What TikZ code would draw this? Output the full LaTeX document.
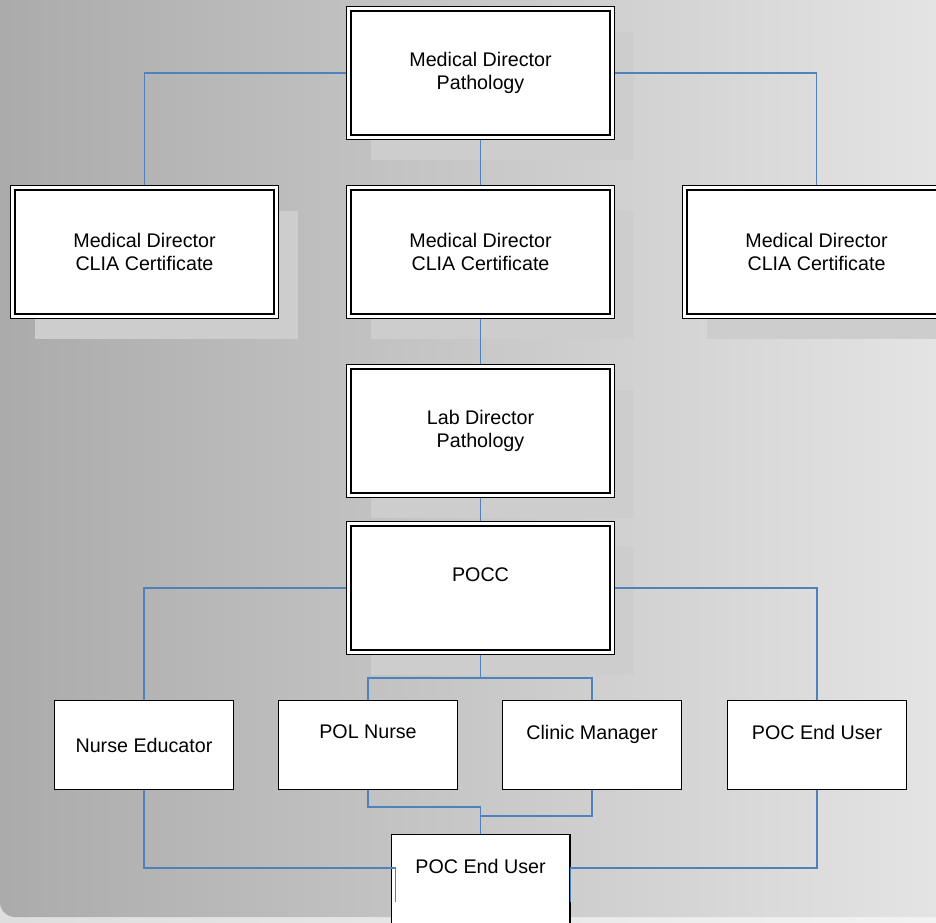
\documentclass[tikz,border=0pt]{standalone}
\usepackage{fontspec}
\setmainfont{Liberation Sans}
\usepackage{tikz}
\usetikzlibrary{positioning}
\usetikzlibrary{shadows}
\definecolor{linkblue}{HTML}{4F81BD}
\definecolor{shadowgrey}{HTML}{CDCDCD}
\tikzstyle{bigbox} = [rectangle, draw=black, line width=1.3pt, double=white, double distance=3pt, fill=white,
minimum width=263.4pt, minimum height=128.4pt, outer sep=2.8pt, inner sep=0pt, align=center,
font={\fontsize{19.7}{23.6}\selectfont},
drop shadow={shadow xshift=22pt, shadow yshift=-23pt, fill=shadowgrey, opacity=1}]
\tikzstyle{smallbox} = [rectangle, draw=black, line width=1.3pt, fill=white, minimum width=178.7pt,
minimum height=88.7pt, inner sep=0pt, align=center, font={\fontsize{19.7}{23.6}\selectfont}]
\tikzstyle{raised} = [text depth=26pt]
\tikzstyle{link} = [draw=linkblue, line width=1.5pt]
\begin{document}
\begin{tikzpicture}[x=1pt, y=1pt, node distance=45pt]
  \useasboundingbox (0,0) rectangle (936,922);
  \shade[left color=black!13, right color=black!5] (0,0) rectangle (936,922);
  \shade[left color=black!33, right color=black!10, rounded corners=15pt] (0,5) rectangle (960,940);

  \node(mdpath)[bigbox] at (480.5,849) {Medical Director\\Pathology};
  \node(clia2)[bigbox, below=of mdpath] {Medical Director\\CLIA Certificate};
  \node(clia1)[bigbox, left=67pt of clia2] {Medical Director\\CLIA Certificate};
  \node(clia3)[bigbox, right=67pt of clia2] {Medical Director\\CLIA Certificate};
  \node(labdir)[bigbox, below=of clia2] {Lab Director\\Pathology};
  \node(pocc)[bigbox, raised, below=23pt of labdir] {POCC};

  \node(polnurse)[smallbox, raised, below=45pt of pocc, xshift=-112.5pt] {POL Nurse};
  \node(clinic)[smallbox, raised, right=44pt of polnurse] {Clinic Manager};
  \node(nurseedu)[smallbox, left=44pt of polnurse] {Nurse Educator};
  \node(poceu)[smallbox, raised, right=45pt of clinic] {POC End User};
  \coordinate (rowmid) at (polnurse.south -| pocc.south);
  \node(pocbottom)[smallbox, raised, below=44pt of rowmid] {POC End User};

  \draw[link] (mdpath.west) -| (clia1.north);
  \draw[link] (mdpath.east) -| (clia3.north);
  \draw[link] (mdpath) -- (clia2);
  \draw[link] (clia2) -- (labdir);
  \draw[link] (labdir) -- (pocc);
  \draw[link] (pocc.west) -| (nurseedu.north);
  \draw[link] (pocc.east) -| (poceu.north);

  \coordinate[below=23pt of pocc] (split);
  \draw[link] (pocc) -- (split);
  \draw[link] (polnurse.north) |- (split) -| (clinic.north);

  \coordinate[above=27pt of pocbottom] (joinpol);
  \coordinate[above=18pt of pocbottom] (joinclinic);
  \draw[link] (polnurse.south) |- (joinpol) -- (pocbottom.north);
  \draw[link] (clinic.south) |- (joinclinic);

  \coordinate (leftbend) at ([xshift=5pt, yshift=11pt]pocbottom.west);
  \coordinate (leftend) at ([xshift=5pt, yshift=-23pt]pocbottom.west);
  \draw[link] (nurseedu.south) |- (leftbend) -- (leftend);
  \coordinate (rightbend) at ([yshift=11pt]pocbottom.east);
  \coordinate (rightend) at ([yshift=-23pt]pocbottom.east);
  \draw[link] (poceu.south) |- (rightbend) -- (rightend);
\end{tikzpicture}
\end{document}
